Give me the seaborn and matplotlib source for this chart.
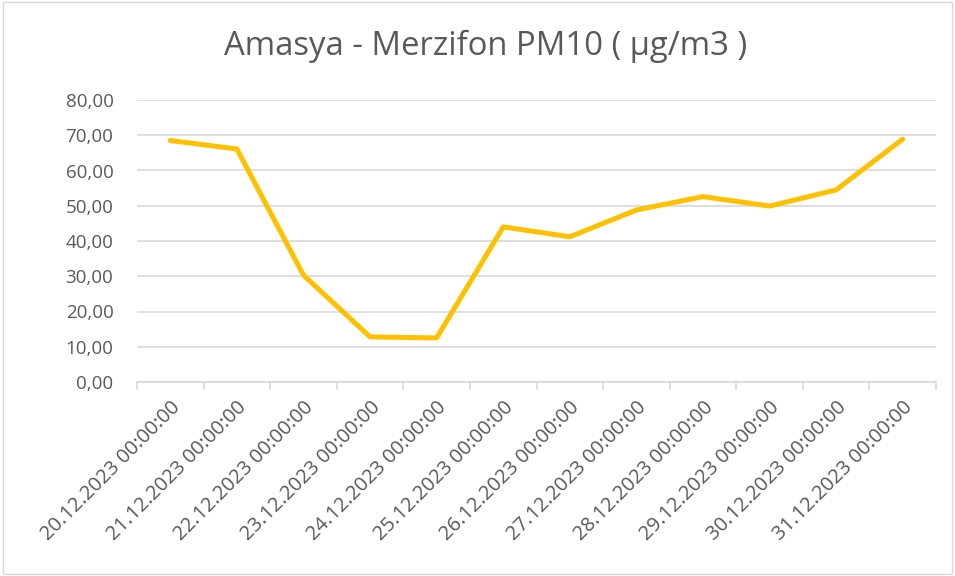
import matplotlib
matplotlib.use("Agg")
import matplotlib.pyplot as plt
from matplotlib.ticker import FixedLocator, FuncFormatter
from matplotlib.patches import Rectangle
import seaborn as sns
import numpy as np

# ── Data ──────────────────────────────────────────────────────────────────────
dates = ["20.12.2023 00:00:00", "21.12.2023 00:00:00", "22.12.2023 00:00:00",
         "23.12.2023 00:00:00", "24.12.2023 00:00:00", "25.12.2023 00:00:00",
         "26.12.2023 00:00:00", "27.12.2023 00:00:00", "28.12.2023 00:00:00",
         "29.12.2023 00:00:00", "30.12.2023 00:00:00", "31.12.2023 00:00:00"]
pm10 = [68.5, 66.1, 30.3, 12.8, 12.5, 44.0, 41.2, 48.8, 52.6, 49.9, 54.5, 68.9]
title = "Amasya - Merzifon PM10 ( µg/m3 )"

TXT = "#595959"
GRID = "#d9d9d9"
LINE = "#FFC000"

sns.set_style("white")
plt.rcParams["font.family"] = ["Open Sans", "DejaVu Sans"]

fig = plt.figure(figsize=(9.55, 5.76), dpi=100)
ax = fig.add_axes([137 / 955, 1 - 382 / 576, (936 - 137) / 955, (382 - 100) / 576])

idx = np.arange(len(dates))
sns.lineplot(x=idx, y=pm10, ax=ax, color=LINE, linewidth=3.6,
             solid_capstyle="round", solid_joinstyle="round")

ax.set_xlim(-0.5, len(dates) - 0.5)
ax.set_ylim(0, 80)
ax.set_yticks(np.arange(0, 81, 10))
ax.yaxis.set_major_formatter(FuncFormatter(lambda v, p: f"{v:.2f}".replace(".", ",")))
ax.yaxis.grid(True, color=GRID, linewidth=1.2)
ax.set_axisbelow(True)

ax.set_xticks(idx)
ax.set_xticklabels(dates, rotation=45, ha="right", rotation_mode="anchor")
ax.xaxis.set_minor_locator(FixedLocator(np.arange(-0.5, len(dates), 1.0)))
ax.tick_params(axis="x", which="major", length=0, pad=11, labelsize=14.5, labelcolor=TXT)
ax.tick_params(axis="x", which="minor", length=6, width=1.2, color=GRID, bottom=True)
ax.tick_params(axis="y", length=0, pad=17, labelsize=13.5, labelcolor=TXT)

for s in ["top", "right", "left"]:
    ax.spines[s].set_visible(False)
ax.spines["bottom"].set_color(GRID)
ax.spines["bottom"].set_linewidth(1.2)
ax.set_xlabel("")
ax.set_ylabel("")

fig.text(486 / 955, 1 - 46 / 576, title, ha="center", va="center", fontsize=23.7, color=TXT)

# chart border
fig.patches.append(Rectangle((0.003, 0.003), 0.994, 0.994, transform=fig.transFigure,
                             fill=False, edgecolor=GRID, linewidth=1))

fig.savefig("out.png", dpi=100)
